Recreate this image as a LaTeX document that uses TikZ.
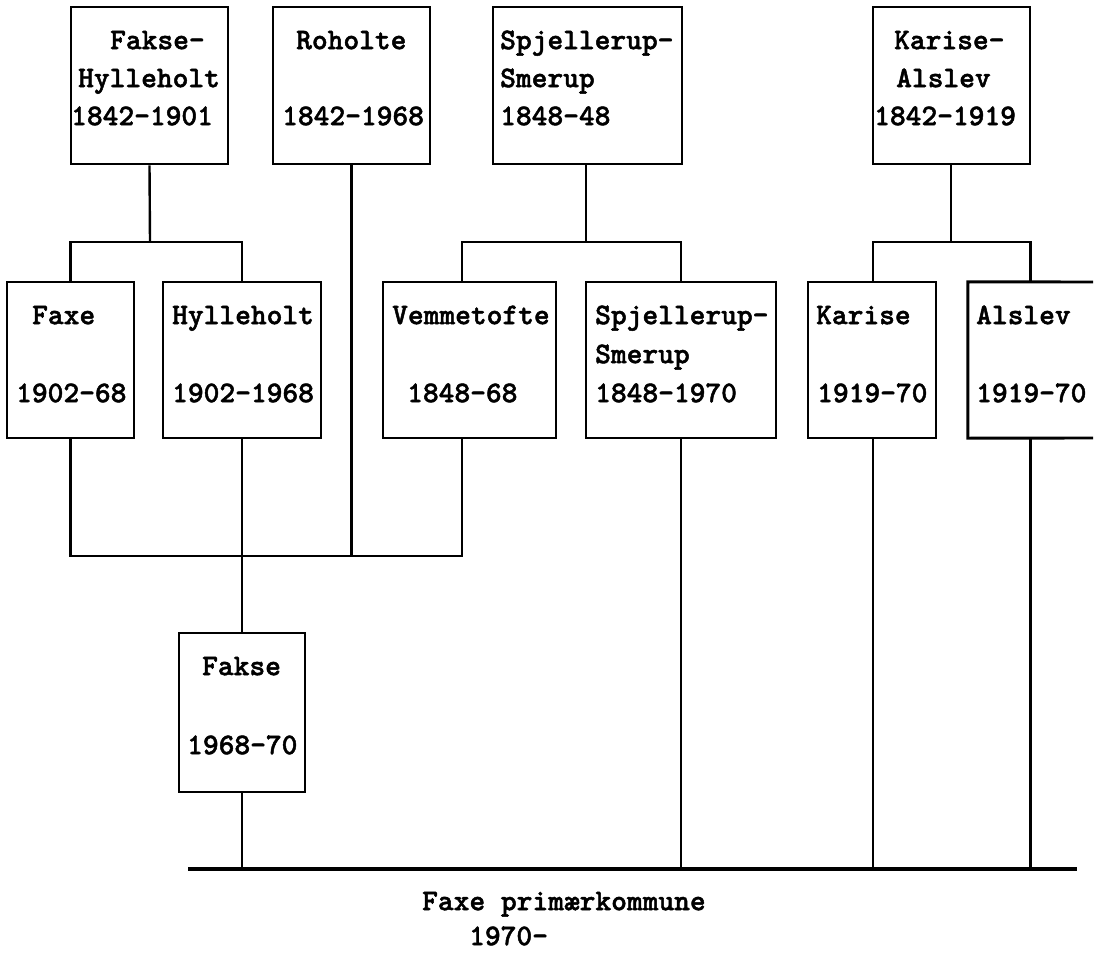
\documentclass[tikz,border=0pt]{standalone}
\usepackage{fontspec}
\newfontfamily\courbold[FakeBold=1.6]{lmmonolt10-bold.otf}
\begin{document}
\begin{tikzpicture}[x=1pt,y=-1pt,
  boxwh/.style 2 args={draw, line width=2.9pt, minimum width=#1, minimum height=#2, inner sep=0pt},
  conn/.style={line width=2.4pt},
  baseline/.style={line width=3.4pt},
  lbl/.style={font=\fontsize{30}{30}\selectfont\courbold, anchor=mid west, inner sep=0pt}]
\fill[white] (0,0) rectangle (1099,960);
\useasboundingbox (0,0) rectangle (1099,960);

% top row
\node[boxwh={157pt}{157pt}] (fh)  at (149.5,85.5) {};
\node[boxwh={157pt}{157pt}] (ro)  at (351.5,85.5) {};
\node[boxwh={189pt}{157pt}] (sst) at (587.5,85.5) {};
\node[boxwh={157pt}{157pt}] (ka)  at (951.5,85.5) {};
% second row
\node[boxwh={127pt}{156pt}] (faxe) at (70.5,360) {};
\node[boxwh={158pt}{156pt}] (hyl)  at (242,360) {};
\node[boxwh={173pt}{156pt}] (vem)  at (469.5,360) {};
\node[boxwh={190pt}{156pt}] (ssl)  at (681,360) {};
\node[boxwh={128pt}{156pt}] (kar)  at (872,360) {};
\node[minimum width=125pt, minimum height=156pt, inner sep=0pt] (als) at (1030.5,360) {};
\draw[line width=2.9pt] (1093,282) -- (als.north west) -- (als.south west) -- (1093,438);
% Fakse
\node[boxwh={126pt}{159pt}] (fakse) at (242,712.5) {};

% labels top row
\node[lbl] (l1)  at (110,47)  {Fakse-};
\node[lbl] (l2)  at (78,85)   {Hylleholt};
\node[lbl] (l3)  at (71,123)  {1842-1901};
\node[lbl] (l4)  at (296,47)  {Roholte};
\node[lbl] (l5)  at (282,123) {1842-1968};
\node[lbl] (l6)  at (500,47)  {Spjellerup-};
\node[lbl] (l7)  at (500,85)  {Smerup};
\node[lbl] (l8)  at (500,123) {1848-48};
\node[lbl] (l9)  at (894,47)  {Karise-};
\node[lbl] (l10) at (896,85)  {Alslev};
\node[lbl] (l11) at (874,123) {1842-1919};
% labels second row
\node[lbl] (l12) at (32,322)  {Faxe};
\node[lbl] (l13) at (16,400)  {1902-68};
\node[lbl] (l14) at (172,322) {Hylleholt};
\node[lbl] (l15) at (172,400) {1902-1968};
\node[lbl] (l16) at (392,322) {Vemmetofte};
\node[lbl] (l17) at (407,400) {1848-68};
\node[lbl] (l18) at (595,322) {Spjellerup-};
\node[lbl] (l19) at (595,361) {Smerup};
\node[lbl] (l20) at (595,400) {1848-1970};
\node[lbl] (l21) at (816,322) {Karise};
\node[lbl] (l22) at (817,400) {1919-70};
\node[lbl] (l23) at (976,322) {Alslev};
\node[lbl] (l24) at (976,400) {1919-70};
% Fakse labels
\node[lbl] (l25) at (202,673) {Fakse};
\node[lbl] (l26) at (187,752) {1968-70};
% bottom labels
\node[lbl] (l27) at (422,908) {Faxe primærkommune};
\node[lbl] (l28) at (469,943) {1970-};

% junction coordinates
\coordinate (bl) at (188,869);
\coordinate (br) at (1077,869);
\coordinate (j1) at (150,242);
\coordinate (j2) at (586,242);
\coordinate (j3) at (951,242);
\coordinate (lowbus) at (242,556);

% connectors top to second row
\draw[conn] (fh.south) -- (j1);
\draw[conn] (faxe.north) |- (j1) -| (hyl.north);
\draw[conn] (sst.south -| j2) -- (j2);
\draw[conn] (vem.north -| 462,0) |- (j2) -| (ssl.north);
\draw[conn] (ka.south -| j3) -- (j3);
\draw[conn] (kar.north -| 873,0) |- (j3) -| (als.north);

% lower bus
\draw[conn] (faxe.south) |- (lowbus) -| (vem.south -| 462,0);
\draw[conn] (ro.south) -- (ro.south |- lowbus);
\draw[conn] (hyl.south) -- (lowbus) -- (fakse.north);

% to base line
\draw[baseline] (bl) -- (br);
\draw[conn] (fakse.south) -- (fakse.south |- bl);
\draw[conn] (ssl.south) -- (ssl.south |- bl);
\draw[conn] (kar.south -| 873,0) -- (bl -| 873,0);
\draw[conn] (als.south) -- (als.south |- bl);
\end{tikzpicture}
\end{document}
